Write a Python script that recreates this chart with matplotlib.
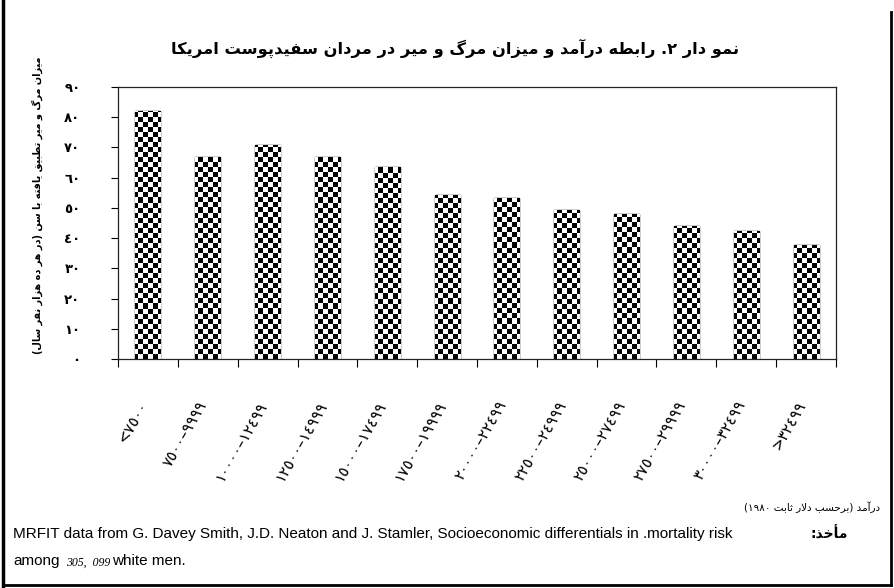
#!/usr/bin/env python3
# -*- coding: utf-8 -*-
"""
رابطه درآمد و میزان مرگ و میر در مردان سفیدپوست امریکا
نمودار ستونی با هاشور شطرنجی
"""

import numpy as np
import matplotlib
matplotlib.use('Agg')
import matplotlib.pyplot as plt
import matplotlib.transforms as mtransforms
from matplotlib.lines import Line2D

plt.rcParams['font.family'] = ['DejaVu Sans']

# ---- داده‌ها ----
income_labels = ['<٧٥٠٠', '٧٥٠٠–٩٩٩٩', '١٠٠٠٠–١٢٤٩٩', '١٢٥٠٠–١٤٩٩٩',
                 '١٥٠٠٠–١٧٤٩٩', '١٧٥٠٠–١٩٩٩٩', '٢٠٠٠٠–٢٢٤٩٩', '٢٢٥٠٠–٢٤٩٩٩',
                 '٢٥٠٠٠–٢٧٤٩٩', '٢٧٥٠٠–٢٩٩٩٩', '٣٠٠٠٠–٣٢٤٩٩', '>٣٢٤٩٩']
mortality = [81.9, 67.0, 70.9, 66.7, 63.5, 54.2, 53.3, 49.3, 48.0, 43.9, 42.5, 37.6]
y_ticks = [0, 10, 20, 30, 40, 50, 60, 70, 80, 90]
y_tick_labels = ['٠', '١٠', '٢٠', '٣٠', '٤٠', '٥٠', '٦٠', '٧٠', '٨٠', '٩٠']

title_fa = 'نمو دار ۲. رابطه درآمد و میزان مرگ و میر در مردان سفیدپوست امریکا'
ylabel_fa = 'میزان مرگ و میر تطبیق یافته با سن (در هر ده هزار نفر سال)'
xlabel_fa = 'درآمد (برحسب دلار ثابت ۱۹۸۰)'
source_fa = 'مأخذ:'
source_en = ('MRFIT data from G. Davey Smith, J.D. Neaton and J. Stamler, '
             'Socioeconomic differentials in .mortality risk')

# ---- شکل‌دهی ساده حروف فارسی (matplotlib خودش حروف را نمی‌چسباند) ----
FORMS = {
    'ا': ('\uFE8D', '\uFE8E'), 'آ': ('\uFE81', '\uFE82'), 'أ': ('\uFE83', '\uFE84'),
    'د': ('\uFEA9', '\uFEAA'), 'ذ': ('\uFEAB', '\uFEAC'), 'ر': ('\uFEAD', '\uFEAE'),
    'ز': ('\uFEAF', '\uFEB0'), 'و': ('\uFEED', '\uFEEE'),
    'ب': ('\uFE8F', '\uFE90', '\uFE91', '\uFE92'),
    'ت': ('\uFE95', '\uFE96', '\uFE97', '\uFE98'),
    'ث': ('\uFE99', '\uFE9A', '\uFE9B', '\uFE9C'),
    'ح': ('\uFEA1', '\uFEA2', '\uFEA3', '\uFEA4'),
    'خ': ('\uFEA5', '\uFEA6', '\uFEA7', '\uFEA8'),
    'س': ('\uFEB1', '\uFEB2', '\uFEB3', '\uFEB4'),
    'ط': ('\uFEC1', '\uFEC2', '\uFEC3', '\uFEC4'),
    'ف': ('\uFED1', '\uFED2', '\uFED3', '\uFED4'),
    'ق': ('\uFED5', '\uFED6', '\uFED7', '\uFED8'),
    'ل': ('\uFEDD', '\uFEDE', '\uFEDF', '\uFEE0'),
    'م': ('\uFEE1', '\uFEE2', '\uFEE3', '\uFEE4'),
    'ن': ('\uFEE5', '\uFEE6', '\uFEE7', '\uFEE8'),
    'ه': ('\uFEE9', '\uFEEA', '\uFEEB', '\uFEEC'),
    'پ': ('\uFB56', '\uFB57', '\uFB58', '\uFB59'),
    'ک': ('\uFB8E', '\uFB8F', '\uFB90', '\uFB91'),
    'گ': ('\uFB92', '\uFB93', '\uFB94', '\uFB95'),
    'ی': ('\uFBFC', '\uFBFD', '\uFBFE', '\uFBFF'),
}
LAM_ALEF = {'ا': ('\uFEFB', '\uFEFC'), 'آ': ('\uFEF5', '\uFEF6'), 'أ': ('\uFEF7', '\uFEF8')}
DIGITS = set('0123456789٠١٢٣٤٥٦٧٨٩۰۱۲۳۴۵۶۷۸۹')
MIRROR = {'(': ')', ')': '('}


def fa(text):
    """حروف را می‌چسباند و ترتیب نمایش را راست به چپ می‌کند"""
    def joins_next(c):
        return c in FORMS and len(FORMS[c]) == 4

    out = []
    i, n = 0, len(text)
    while i < n:
        c = text[i]
        if c not in FORMS:
            out.append(MIRROR.get(c, c))
            i += 1
            continue
        prev = text[i - 1] if i > 0 else None
        nxt = text[i + 1] if i + 1 < n else None
        jp = prev is not None and joins_next(prev)
        if c == 'ل' and nxt in LAM_ALEF:
            out.append(LAM_ALEF[nxt][1 if jp else 0])
            i += 2
            continue
        f = FORMS[c]
        jn = len(f) == 4 and nxt in FORMS
        if jp and jn:
            out.append(f[3])
        elif jp:
            out.append(f[1])
        elif jn:
            out.append(f[2])
        else:
            out.append(f[0])
        i += 1
    vis = out[::-1]
    # اعداد چپ به راست می‌مانند
    res, run = [], []
    for ch in vis:
        if ch in DIGITS:
            run.append(ch)
        else:
            res.extend(run[::-1])
            run = []
            res.append(ch)
    res.extend(run[::-1])
    return ''.join(res)


def main():
    fig = plt.figure(figsize=(8.95, 5.88), dpi=100)
    W, H = 895.0, 588.0
    ax = fig.add_axes([118 / W, 1 - 359 / H, 718 / W, 272 / H])

    x = np.arange(len(mortality))
    bars = ax.bar(x, mortality, width=0.42, color='white', edgecolor='black',
                  linewidth=1.0, zorder=2)

    ax.set_xlim(-0.5, len(mortality) - 0.5)
    ax.set_ylim(0, 90)

    # هاشور شطرنجی: تصویر شطرنجی که به هر ستون بریده می‌شود
    ncol, nrow = 144, 54
    checker = (np.add.outer(np.arange(nrow), np.arange(ncol)) % 2).astype(float)
    for b in bars:
        im = ax.imshow(checker, extent=(-0.5, len(mortality) - 0.5, 0, 90),
                       cmap='gray', vmin=0, vmax=1, interpolation='nearest',
                       aspect='auto', zorder=2.5)
        im.set_clip_path(b)
    ax.set_xlim(-0.5, len(mortality) - 0.5)
    ax.set_ylim(0, 90)

    # محور عمودی
    ax.set_yticks(y_ticks)
    ax.set_yticklabels(y_tick_labels, fontsize=9.5, fontweight='bold')
    ax.tick_params(axis='y', direction='out', length=5, width=0.8, pad=22)

    # محور افقی: خط تیک در مرز دسته‌ها، برچسب در وسط
    ax.set_xticks(np.arange(-0.5, len(mortality)))
    ax.set_xticklabels([])
    ax.tick_params(axis='x', which='major', direction='out', length=6, width=0.8)
    ax.set_xticks(x, minor=True)
    ax.set_xticklabels(income_labels, minor=True, rotation=60, ha='right',
                       va='center', rotation_mode='anchor', fontsize=11)
    ax.tick_params(axis='x', which='minor', length=0, pad=31)
    shift = mtransforms.ScaledTranslation(-4 / 100, 0, fig.dpi_scale_trans)
    for lab in ax.get_xticklabels(minor=True):
        lab.set_transform(lab.get_transform() + shift)

    for sp in ax.spines.values():
        sp.set_color('#222222')
        sp.set_linewidth(0.9)

    # عنوان و برچسب‌ها
    fig.text(455 / W, 1 - 48 / H, fa(title_fa), ha='center', va='center',
             fontsize=11.7, fontweight='bold')
    fig.text(37 / W, 1 - 205 / H, fa(ylabel_fa), rotation=90, ha='center',
             va='center', fontsize=7, fontweight='bold')
    fig.text(880 / W, 1 - 507 / H, fa(xlabel_fa), ha='right', va='center',
             fontsize=7.5)

    # منبع
    fig.text(848 / W, 1 - 534 / H, fa(source_fa), ha='right', va='center',
             fontsize=10, fontweight='bold')
    fig.text(13 / W, 1 - 534 / H, source_en, ha='left', va='center',
             fontsize=11, family='Liberation Sans')
    fig.text(13 / W, 1 - 561 / H, 'among', ha='left', va='center',
             fontsize=11, family='Liberation Sans')
    fig.text(66 / W, 1 - 563 / H, '305,  099', ha='left', va='center',
             fontsize=8.5, family='Liberation Serif', style='italic')
    fig.text(112 / W, 1 - 561 / H, 'white men.', ha='left', va='center',
             fontsize=11, family='Liberation Sans')

    # کادر دور شکل
    fig.add_artist(Line2D([3 / W, 3 / W], [0.004, 1.0], color='black',
                          linewidth=2.5, transform=fig.transFigure))
    fig.add_artist(Line2D([3 / W, 891 / W], [1 - 585 / H, 1 - 585 / H],
                          color='black', linewidth=2.0, transform=fig.transFigure))
    fig.add_artist(Line2D([891 / W, 891 / W], [1 - 585 / H, 1 - 12 / H],
                          color='black', linewidth=2.0, transform=fig.transFigure))

    fig.savefig('out.png', dpi=100, facecolor='white')


if __name__ == '__main__':
    main()
